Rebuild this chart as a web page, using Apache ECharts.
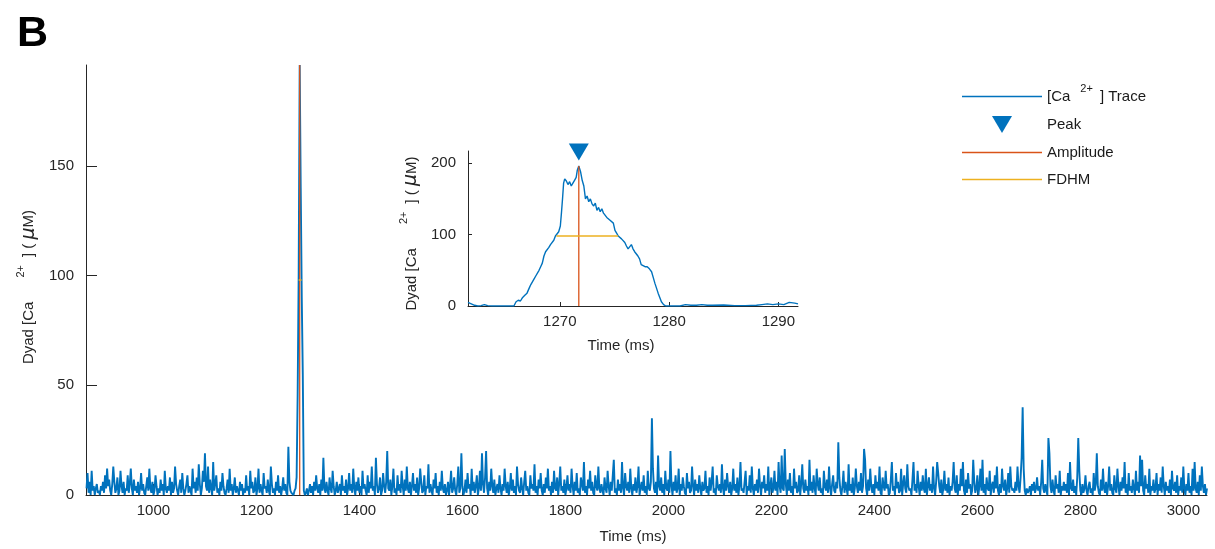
<!DOCTYPE html>
<html lang="en">
<head>
<meta charset="utf-8">
<title>Dyad Ca2+ trace</title>
<script src="https://cdn.jsdelivr.net/npm/echarts@6.0.0/dist/echarts.min.js"></script>
</head>
<body style="margin:0">
<div id="chart" style="width:1215px;height:549px"></div>
<script>
// main trace, sampled every 2 ms from 870 ms
var traceStart = 870;
var traceStep = 2;
var traceValues = [
  3,10,1,6,0,11,2,4,0,3,5,1,2,0,4,2,6,1,9,3,12,4,7,2,0,5,13,6,1,3,8,0,2,11,4,1,6,0,3,2,9,1,5,12,3,0,7,2,4,1,
  6,0,3,10,2,5,1,0,4,8,2,12,3,1,6,0,2,9,4,0,3,1,7,2,5,0,11,3,1,4,2,8,0,6,1,3,13,5,2,0,4,7,1,10,3,0,2,5,9,1,
  4,2,0,12,3,6,1,8,2,14,5,0,3,11,6,19,4,2,13,1,7,3,0,15,2,5,9,1,3,0,6,2,10,4,1,0,3,7,1,12,2,5,0,3,8,1,4,2,0,6,
  2,5,0,3,1,9,2,4,0,11,3,6,1,2,8,0,3,12,1,5,2,0,10,3,4,1,7,2,0,13,5,1,3,0,6,2,9,1,4,0,3,8,2,5,1,0,22,6,2,1,
  1,0,2,3,8,45,100,196,140,90,55,2,0,1,3,0,2,5,1,4,0,6,2,9,3,1,5,0,7,2,17,3,1,6,2,0,8,3,1,11,4,0,2,6,1,3,5,0,9,2,
  4,1,7,0,3,10,2,5,1,12,3,0,6,2,8,1,4,0,11,3,5,2,0,9,1,6,3,13,2,4,0,17,5,1,3,8,0,2,10,4,1,6,20,3,2,7,0,4,12,1,
  3,0,9,2,5,1,11,4,0,7,2,13,3,1,6,0,4,10,2,5,1,8,0,3,12,6,1,2,9,0,4,3,14,1,5,2,0,7,3,10,1,4,0,6,2,11,3,1,5,0,
  2,6,0,4,11,1,3,8,2,0,5,13,1,3,19,4,0,2,7,1,10,3,5,0,12,2,6,1,4,9,0,3,11,2,19,5,1,8,20,3,0,6,2,12,4,1,7,0,3,5,
  1,9,3,0,5,2,12,4,1,6,0,3,10,2,7,1,4,0,13,5,2,1,8,3,0,6,11,2,4,1,0,9,3,5,2,14,1,4,0,7,3,10,2,0,5,1,8,3,12,2,
  4,0,6,1,11,3,2,8,0,5,13,2,4,1,7,0,3,9,2,5,1,12,4,0,6,2,10,1,3,0,8,5,2,15,1,4,0,7,3,11,2,6,1,0,9,4,2,13,3,1,
  5,2,0,8,3,1,11,4,0,6,2,9,16,1,3,0,7,2,5,1,15,3,0,10,4,2,6,1,12,3,0,5,2,8,1,4,13,0,3,6,2,9,1,4,0,11,3,2,6,35,
  12,3,1,6,0,18,4,2,8,1,5,0,11,3,2,7,1,20,4,0,6,2,9,1,3,12,0,5,2,8,4,1,0,10,3,6,1,2,13,4,0,7,2,5,1,9,3,0,6,2,
  3,11,1,4,0,8,2,6,13,1,3,0,9,4,2,5,1,14,3,0,7,2,10,4,1,6,0,3,12,2,5,1,8,0,4,15,2,3,1,6,11,0,4,2,9,1,13,3,0,5,
  2,7,1,12,4,0,6,3,9,1,5,2,13,0,4,8,1,3,11,2,6,0,15,4,1,18,3,2,21,5,0,7,2,10,1,4,0,12,3,6,1,2,9,0,5,14,3,1,7,2,
  4,0,16,2,6,1,9,3,0,12,5,2,8,1,3,0,11,4,2,7,1,13,3,0,5,9,2,1,6,3,24,8,2,0,4,11,1,6,3,0,14,2,5,1,8,0,3,12,4,1,
  6,2,10,1,4,21,16,3,0,7,2,12,4,1,5,0,9,3,6,2,13,1,0,8,4,2,11,3,5,0,1,7,15,2,4,0,10,3,6,1,2,12,0,5,9,3,1,14,4,2,
  3,0,7,15,2,5,1,11,4,0,6,2,9,3,1,12,0,4,8,2,5,1,13,3,0,6,15,10,4,1,7,0,3,11,2,5,1,8,0,4,2,6,15,3,1,9,0,5,2,12,
  4,15,2,0,7,1,10,3,5,0,2,16,6,1,3,9,0,4,12,2,16,1,5,0,8,3,2,11,0,4,6,1,9,3,13,2,0,5,1,12,4,2,7,0,3,10,1,13,4,2,
  3,1,6,2,13,4,1,8,17,40,12,2,0,3,1,2,4,0,5,2,6,1,3,8,2,4,0,6,16,3,1,5,2,0,26,19,4,1,7,2,0,9,3,5,1,11,0,4,2,6,
  2,5,1,10,0,15,3,2,7,1,4,0,8,26,11,2,0,5,1,3,9,2,0,4,6,1,3,0,10,2,5,19,4,1,0,7,2,12,3,1,6,0,4,13,2,5,1,0,9,3,
  1,12,4,0,6,2,8,3,15,1,5,0,10,2,4,1,7,3,0,11,2,6,1,18,4,16,2,0,9,3,5,1,12,0,4,2,7,1,3,10,0,5,2,8,1,13,4,0,6,2,
  4,1,7,0,11,3,2,6,1,9,0,4,2,8,1,13,3,0,5,2,10,1,4,0,12,2,15,3,1,6,0,9,2,13,4,1,5,0,3
];

// zoomed event shown in the inset
var insetTime = [
  1261.6,1261.9,1262.2,1262.5,1262.8,1263.1,1263.4,1263.8,1264.5,1265.2,1265.8,1266.0,1266.2,1266.4,1266.6,1266.8,
  1267.0,1267.2,1267.35,1267.5,1267.65,1267.8,1267.95,1268.1,1268.25,1268.4,1268.55,1268.7,1268.85,1269.0,1269.15,
  1269.3,1269.45,1269.6,1269.75,1269.9,1270.05,1270.15,1270.25,1270.35,1270.45,1270.6,1270.75,1270.9,1271.05,1271.2,
  1271.35,1271.5,1271.6,1271.74,1271.9,1272.05,1272.2,1272.35,1272.5,1272.65,1272.8,1272.95,1273.1,1273.25,1273.4,
  1273.55,1273.7,1273.85,1274.0,1274.15,1274.3,1274.45,1274.6,1274.75,1274.9,1275.05,1275.2,1275.35,1275.5,1275.65,
  1275.8,1275.95,1276.1,1276.25,1276.4,1276.55,1276.7,1276.85,1277.0,1277.15,1277.3,1277.45,1277.6,1277.8,1278.0,
  1278.2,1278.4,1278.55,1278.7,1278.85,1279.0,1279.15,1279.3,1279.5,1279.7,1280.5,1281.0,1281.5,1282.0,1282.5,
  1283.0,1283.5,1284.0,1285.0,1286.0,1287.0,1288.0,1288.5,1289.0,1289.5,1290.0,1290.5,1291.0,1291.5,1291.8
];
var insetValue = [
  5,3,1,0,0.5,2,0.5,0,0,0,0,6,8,7,12,15,
  18,25,30,28,38,42,40,50,55,60,70,76,74,82,86,
  84,92,98,99,104,112,130,150,172,178,175,170,174,168,172,
  176,180,190,196,188,176,168,150,154,146,150,143,140,144,134,
  138,132,136,130,128,124,126,120,118,116,106,102,98,96,94,
  92,89,84,80,82,86,80,76,74,70,66,58,56,55,55,
  52,48,40,32,25,18,12,6,2,0,0,0,2,1,1,
  2,1,1,1.5,0.5,0.5,1,2,3,2,3,2,5,4,3
];

// peak, amplitude and FDHM (main panel and inset)
var mainPeak = [1284, 196];
var mainHalf = [1281.95, 1287.6, 98];
var insetPeak = [1271.74, 196];
var insetHalf = [1269.69, 1275.34, 98];

var mainXTicks = [1000, 1200, 1400, 1600, 1800, 2000, 2200, 2400, 2600, 2800, 3000];
var mainYTicks = [0, 50, 100, 150];
var insetXTicks = [1270, 1280, 1290];
var insetYTicks = [0, 100, 200];

var blue = '#0072BD', orange = '#D95319', yellow = '#EDB120';
var ink = '#262626';
var font = '"Liberation Sans", Arial, Helvetica, sans-serif';

var mainTrace = traceValues.map(function (v, i) { return [traceStart + i * traceStep, v]; });
var insetTrace = insetTime.map(function (t, i) { return [t, insetValue[i]]; });

var caName = '{a|Dyad [Ca}{sup|2+}{a|] ( }{mu|\u03bc}{a|M)}';
var caRich = {
  a: { fontSize: 15, color: ink, fontFamily: font },
  sup: { fontSize: 11, color: ink, fontFamily: font, padding: [0, 8, 16, 24] },
  mu: { fontSize: 19, color: ink, fontStyle: 'italic', fontFamily: '"DejaVu Sans", sans-serif' }
};

function plain(v) { return String(v); }

function xAxis(grid, min, max, ticks, tickLen, labelMargin, nameGap, shift) {
  return {
    type: 'value', gridIndex: grid, min: min, max: max,
    name: 'Time (ms)', nameLocation: 'middle', nameGap: nameGap,
    nameTextStyle: { fontSize: 15, color: ink, fontFamily: font, padding: [0, shift, 0, 0] },
    axisLine: { show: true, lineStyle: { color: ink, width: 1 } },
    axisTick: { show: true, inside: true, length: tickLen, customValues: ticks, lineStyle: { color: ink } },
    axisLabel: { customValues: ticks, formatter: plain, margin: labelMargin, fontSize: 15, color: ink, fontFamily: font },
    splitLine: { show: false }
  };
}

function yAxis(grid, max, ticks, tickLen, nameGap, shift) {
  return {
    type: 'value', gridIndex: grid, min: 0, max: max,
    name: caName, nameLocation: 'middle', nameGap: nameGap, nameRotate: 90,
    nameTextStyle: { rich: caRich, padding: [0, shift, 0, 0] },
    axisLine: { show: true, lineStyle: { color: ink, width: 1 } },
    axisTick: { show: true, inside: true, length: tickLen, customValues: ticks, lineStyle: { color: ink } },
    axisLabel: { customValues: ticks, formatter: plain, margin: 12, fontSize: 15, color: ink, fontFamily: font },
    splitLine: { show: false }
  };
}

function lineSeries(name, x, y, data, color, width, z) {
  return {
    name: name, type: 'line', xAxisIndex: x, yAxisIndex: y, data: data,
    symbol: 'none', showSymbol: false, silent: true, z: z,
    lineStyle: { color: color, width: width }, itemStyle: { color: color }
  };
}

var linePath = 'path://M0,0H80V1.5H0Z';
var triPath = 'path://M0,0L20,0L10,17Z';

var chart = echarts.init(document.getElementById('chart'), null, { renderer: 'canvas' });
chart.setOption({
  animation: false,
  backgroundColor: '#fff',
  title: {
    text: 'B', left: 12, top: 8,
    textStyle: { fontSize: 43, fontWeight: 'bold', color: '#000', fontFamily: font }
  },
  legend: {
    orient: 'vertical', left: 962, top: 83, padding: 0,
    itemWidth: 80, itemHeight: 17, itemGap: 12,
    textStyle: {
      fontSize: 15, color: '#1a1a1a', fontFamily: font,
      rich: {
        a: { fontSize: 15, color: '#1a1a1a', fontFamily: font },
        sup: { fontSize: 11, color: '#1a1a1a', fontFamily: font, padding: [0, 7, 16, 10] }
      }
    },
    formatter: function (name) {
      return name === 'Trace' ? '{a|[Ca}{sup|2+}{a|] Trace}' : name;
    },
    data: [
      { name: 'Trace', icon: linePath },
      { name: 'Peak', icon: triPath, itemStyle: { opacity: 1 } },
      { name: 'Amplitude', icon: linePath },
      { name: 'FDHM', icon: linePath }
    ],
    selectedMode: false
  },
  grid: [
    { left: 86, top: 65, width: 1121, height: 430 },
    { left: 468, top: 151, width: 330, height: 155 }
  ],
  xAxis: [
    xAxis(0, 869, 3046, mainXTicks, 11, 8, 34, 27),
    xAxis(1, 1261.6, 1291.8, insetXTicks, 4, 8, 32, 24)
  ],
  yAxis: [
    yAxis(0, 196, mainYTicks, 11, 43, 14),
    yAxis(1, 217, insetYTicks, 4, 43, 10)
  ],
  series: [
    lineSeries('Trace', 0, 0, mainTrace, blue, 1.9, 2),
    lineSeries('Amplitude', 0, 0, [[mainPeak[0], 0], mainPeak], orange, 1.3, 3),
    lineSeries('FDHM', 0, 0, [[mainHalf[0], mainHalf[2]], [mainHalf[1], mainHalf[2]]], yellow, 1.3, 4),
    lineSeries('Trace', 1, 1, insetTrace, blue, 1.4, 2),
    lineSeries('Amplitude', 1, 1, [[insetPeak[0], 0], insetPeak], orange, 1.3, 3),
    lineSeries('FDHM', 1, 1, [[insetHalf[0], insetHalf[2]], [insetHalf[1], insetHalf[2]]], yellow, 1.3, 4),
    {
      name: 'Peak', type: 'scatter', xAxisIndex: 1, yAxisIndex: 1, data: [insetPeak],
      symbol: triPath, symbolSize: [20, 17], symbolOffset: [0, -14], silent: true, z: 5,
      itemStyle: { color: blue, opacity: 1 }
    }
  ]
});
</script>
</body>
</html>
